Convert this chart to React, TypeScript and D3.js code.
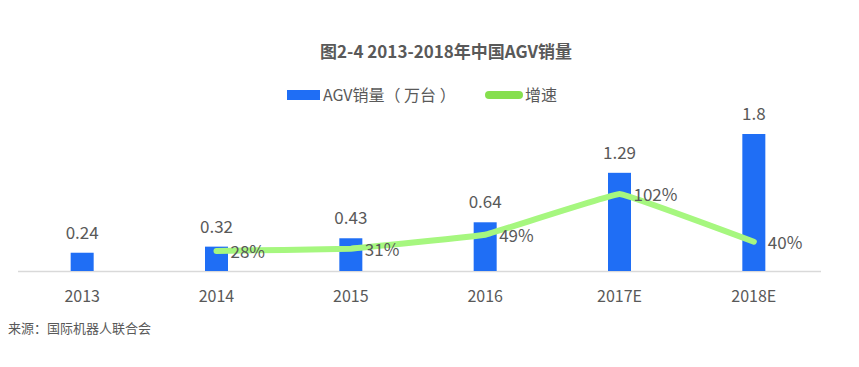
import React from "react";
import * as d3 from "d3";

const categories = ["2013", "2014", "2015", "2016", "2017E", "2018E"];
const sales = [0.24, 0.32, 0.43, 0.64, 1.29, 1.8];
const salesLabels = ["0.24", "0.32", "0.43", "0.64", "1.29", "1.8"];
const growth: (number | null)[] = [null, 28, 31, 49, 102, 40];
const growthLabels = ["", "28%", "31%", "49%", "102%", "40%"];

const W = 859;
const H = 367;
const FONT = "'Noto Sans CJK SC', 'Microsoft YaHei', sans-serif";
const TEXT = "#595959";
const BLUE = "#1f6ef5";
const GREEN = "#a6f77f";
const LEGEND_GREEN = "#86df4e";

export default function App() {
  const x = d3.scaleBand<string>().domain(categories).range([15, 821]);
  const y = d3.scaleLinear().domain([0, 1.8]).range([271, 134]);
  const yg = d3.scaleLinear().domain([0, 102]).range([272.5, 194]);
  const cx = (c: string) => (x(c) as number) + x.bandwidth() / 2;
  const barW = 23;

  const pts = categories
    .map((c, i) => ({ c, v: growth[i] }))
    .filter((d) => d.v !== null) as { c: string; v: number }[];
  const line = d3
    .line<{ c: string; v: number }>()
    .x((d) => cx(d.c))
    .y((d) => yg(d.v))
    .curve(d3.curveCardinal.tension(0.85));

  return (
    <svg width={W} height={H} style={{ position: "absolute", left: 0, top: 0 }} fontFamily={FONT}>
      <rect width={W} height={H} fill="#fff" />
      <text x={446} y={58} textAnchor="middle" fontSize={17} fontWeight="bold" fill={TEXT}>
        图2-4 2013-2018年中国AGV销量
      </text>
      {/* legend */}
      <rect x={287} y={90} width={33} height={10} fill={BLUE} />
      <text x={323} y={101} fontSize={16} fill={TEXT} xmlSpace="preserve">AGV销量（ 万台 ）</text>
      <line x1={489} y1={95} x2={519} y2={95} stroke={LEGEND_GREEN} strokeWidth={8} strokeLinecap="round" />
      <text x={525} y={101} fontSize={16} fill={TEXT}>增速</text>

      {/* axis */}
      <line x1={18} x2={821} y1={271.5} y2={271.5} stroke="#d9d9d9" strokeWidth={1.5} />
      {categories.map((c) => (
        <text key={c} x={cx(c)} y={302} textAnchor="middle" fontSize={16} fill={TEXT}>
          {c}
        </text>
      ))}

      {/* bars */}
      {categories.map((c, i) => (
        <g key={c}>
          <rect x={cx(c) - barW / 2} y={y(sales[i])} width={barW} height={y(0) - y(sales[i])} fill={BLUE} />
          <text x={cx(c)} y={y(sales[i]) - 14} textAnchor="middle" fontSize={17} fill={TEXT}>
            {salesLabels[i]}
          </text>
        </g>
      ))}

      {/* growth line */}
      <path d={line(pts) || ""} fill="none" stroke={GREEN} strokeWidth={6} strokeLinecap="round" strokeLinejoin="round" />
      {categories.map((c, i) =>
        growth[i] === null ? null : (
          <text key={c} x={cx(c) + 14} y={yg(growth[i] as number) + 7} fontSize={17} fill={TEXT}>
            {growthLabels[i]}
          </text>
        )
      )}

      <text x={8} y={333} fontSize={13} fill={TEXT}>来源：国际机器人联合会</text>
    </svg>
  );
}
